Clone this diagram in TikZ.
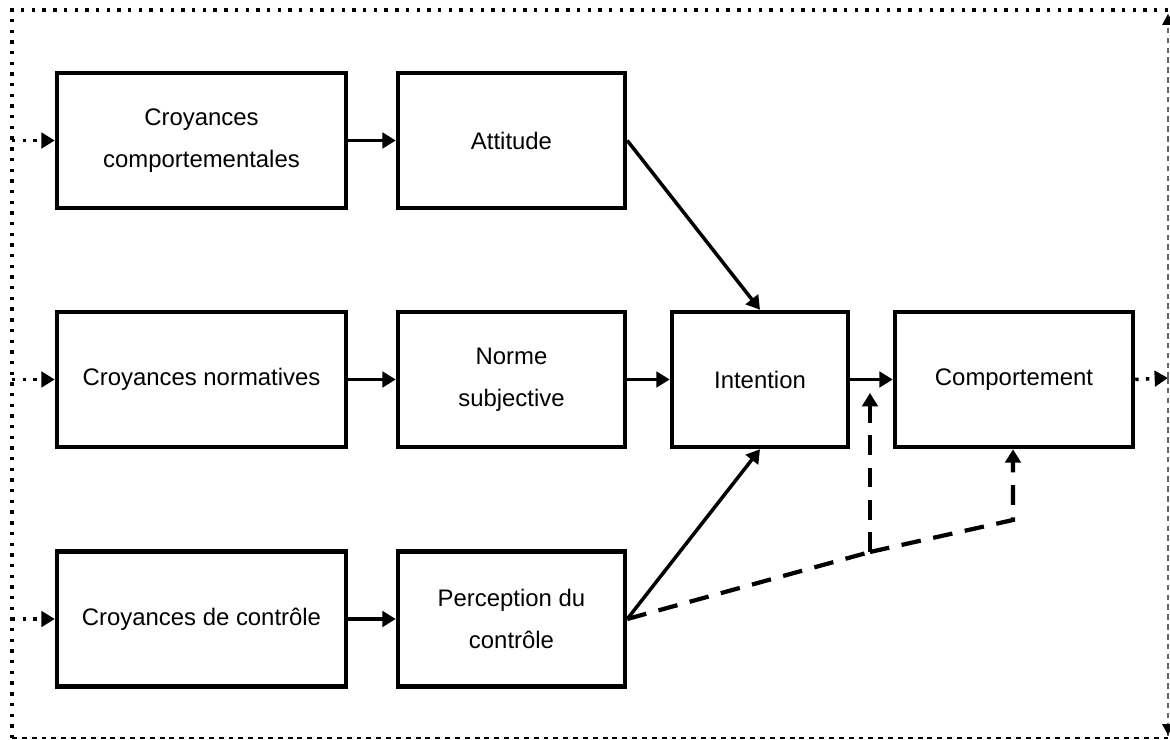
\documentclass[tikz,border=0pt]{standalone}
\usepackage{fontspec}
\setmainfont{Liberation Sans}
\usetikzlibrary{arrows.meta}
\begin{document}
\begin{tikzpicture}[x=0.025cm,y=-0.025cm,
  box/.style={draw, line width=3.2pt, align=center, inner sep=0pt,
    minimum height=135*0.025cm, font=\fontsize{17}{30}\selectfont},
  tip/.style={-{Triangle[length=9.5pt,width=11pt]}},
  link/.style={tip, line width=2.5pt},
  loop/.style={line width=2.5pt, dash pattern=on 2.4pt off 5.2pt},
  ctrl/.style={line width=3pt, dash pattern=on 14pt off 9pt},
  back/.style={line width=1.3pt, black!60, dash pattern=on 4pt off 3pt},
  base/.style={line width=1.6pt, dash pattern=on 3.5pt off 3.5pt}]
\useasboundingbox (0,0) rectangle (1170,740);

% boxes
\node[box, minimum width=289*0.025cm] (cc) at (201.5,140.5) {Croyances\\comportementales};
\node[box, minimum width=227*0.025cm] (att) at (511.5,140.5) {Attitude};
\node[box, minimum width=289*0.025cm] (cn) at (201.5,379.5) {Croyances normatives};
\node[box, minimum width=227*0.025cm] (ns) at (511.5,379.5) {Norme\\subjective};
\node[box, minimum width=176*0.025cm] (int) at (760,379.5) {Intention};
\node[box, minimum width=238*0.025cm] (comp) at (1014,379.5) {Comportement};
\node[box, minimum width=289*0.025cm] (cdc) at (201.5,619) {Croyances de contrôle};
\node[box, minimum width=227*0.025cm] (pc) at (511.5,619) {Perception du\\contrôle};

% frame corners and junctions
\coordinate (tl) at (12,10);
\coordinate (tr) at (1168,10);
\coordinate (bl) at (12,738);
\coordinate (br) at (1168,738);
\coordinate (rout) at (1168,378);
\coordinate (rtop) at (1168,14);
\coordinate (rbot) at (1168,736);
\coordinate (l1) at (12,140.5);
\coordinate (l2) at (12,379.5);
\coordinate (l3) at (12,619);
\coordinate (j1) at (870,552);
\coordinate (j2) at (1013,520);
\coordinate (up1) at (870,393);

% main arrows
\draw[link] (cc) -- (att);
\draw[link] (cn) -- (ns);
\draw[link] (cdc) -- (pc);
\draw[link] (ns) -- (int);
\draw[link] (int) -- (comp);
\draw[link] (att.east) -- (int.north);
\draw[link] (pc.east) -- (int.south);

% perceived control paths
\draw[ctrl] (pc.east) -- (j1);
\draw[ctrl, tip] (j1) -- (up1);
\draw[ctrl, tip] (j1) -- (j2) -- (j2 |- comp.south);

% feedback loop
\draw[loop] (tr) -- (tl) -- (bl);
\draw[base] (bl) -- (br);
\draw[loop, tip] (l1) -- (cc.west);
\draw[loop, tip] (l2) -- (cn.west);
\draw[loop, tip] (l3) -- (cdc.west);
\draw[loop, tip] (comp.east) -- (rout);
\draw[back] (rout) -- (rtop);
\draw[back] (rout) -- (rbot);
\fill (1168,14) -- (1162,25) -- (1174,25) -- cycle;
\fill (1168,735) -- (1162,724) -- (1174,724) -- cycle;
\end{tikzpicture}
\end{document}
